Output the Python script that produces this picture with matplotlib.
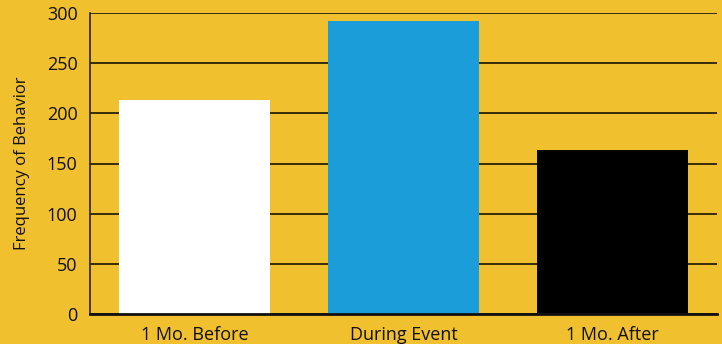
import matplotlib.pyplot as plt
import numpy as np

plt.rcParams['font.family'] = ['Open Sans', 'DejaVu Sans']

categories = ['1 Mo. Before', 'During Event', '1 Mo. After']
frequency = [213, 292, 163]
bar_colors = ['#FFFFFF', '#1B9DD9', '#000000']
y_ticks = [0, 50, 100, 150, 200, 250, 300]

bg = '#F0C02F'

fig = plt.figure(figsize=(7.22, 3.44), dpi=100, facecolor=bg)
ax = fig.add_axes([90 / 722, 30 / 344, 627 / 722, 301 / 344])
ax.set_facecolor(bg)

x = np.arange(len(categories))
ax.bar(x, frequency, width=0.72, color=bar_colors, zorder=2)

ax.set_xlim(-0.5, 2.5)
ax.set_ylim(0, 300)
ax.set_yticks(y_ticks)
ax.set_xticks(x)
ax.set_xticklabels(categories)
ax.tick_params(axis='y', length=0, labelsize=13, colors='#111111', pad=9)
ax.tick_params(axis='x', length=0, labelsize=13, colors='#111111', pad=9)

ax.yaxis.grid(True, color='#1a1408', linewidth=1.2, zorder=0)
ax.set_axisbelow(True)

for side in ['top', 'right']:
    ax.spines[side].set_visible(False)
ax.spines['left'].set_color('#2a2210')
ax.spines['left'].set_linewidth(1.2)
ax.spines['bottom'].set_color('#111111')
ax.spines['bottom'].set_linewidth(2)
ax.spines['bottom'].set_zorder(3)

ax.set_ylabel('Frequency of Behavior', fontsize=12, color='#111111', labelpad=12)

fig.savefig('out.png', dpi=100, facecolor=bg)
